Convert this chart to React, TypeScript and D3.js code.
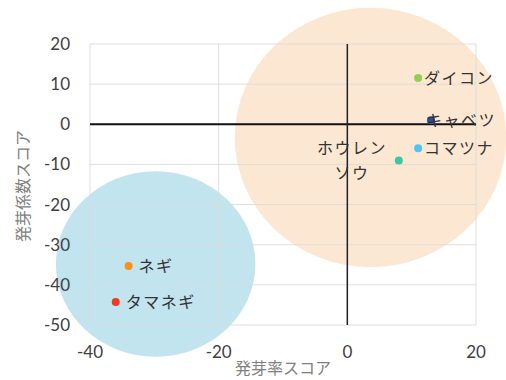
import React from "react";
import * as d3 from "d3";

const names = ["ダイコン", "キャベツ", "コマツナ", "ホウレンソウ", "ネギ", "タマネギ"];
const xValues = [11, 13, 11, 8, -34, -36];
const yValues = [11.5, 1, -6, -9, -35.3, -44.3];
const colors = ["#92d050", "#2f4fa0", "#4fc3f2", "#3cc79c", "#f7901e", "#ef3b1f"];
const xTicks = [-40, -20, 0, 20];
const yTicks = [20, 10, 0, -10, -20, -30, -40, -50];
// cluster ellipses: [cx, cy, rx, ry] in data units
const clusterCenters = [[3.6, -3.3], [-29.8, -34.8]];
const clusterRadii = [[21.1, 32.3], [15.5, 23.1]];
const clusterColors = ["#fce8d2", "#c1e4ee"];

const W = 506, H = 380;
const x = d3.scaleLinear().domain([-40, 20]).range([90, 476]);
const y = d3.scaleLinear().domain([-50, 20]).range([325, 44]);

export default function App() {
  const tickFont = "Lato, 'Open Sans', sans-serif";
  const jp = "'Noto Sans CJK JP', sans-serif";
  return (
    <svg width={W} height={H} style={{ position: "absolute", left: 0, top: 0, background: "#fff" }}>
      {clusterCenters.map((c, i) => (
        <ellipse
          key={"e" + i}
          cx={x(c[0])}
          cy={y(c[1])}
          rx={x(clusterRadii[i][0]) - x(0)}
          ry={y(0) - y(clusterRadii[i][1])}
          fill={clusterColors[i]}
        />
      ))}
      {yTicks.map((t) => (
        <line key={"gy" + t} x1={x(-40)} x2={x(20)} y1={y(t)} y2={y(t)} stroke="#d9d9d9" strokeOpacity={0.85} strokeWidth={1} />
      ))}
      {xTicks.map((t) => (
        <line key={"gx" + t} x1={x(t)} x2={x(t)} y1={y(20)} y2={y(-50)} stroke="#d9d9d9" strokeOpacity={0.85} strokeWidth={1} />
      ))}
      <line x1={x(-40)} x2={x(20)} y1={y(0)} y2={y(0)} stroke="#111" strokeWidth={2} />
      <line x1={x(0)} x2={x(0)} y1={y(20)} y2={y(-50)} stroke="#222" strokeWidth={1.5} />
      {yTicks.map((t) => (
        <text key={"ty" + t} x={70} y={y(t)} dy="0.35em" textAnchor="end" fontFamily={tickFont} fontSize={17} fill="#404040">
          {t}
        </text>
      ))}
      {xTicks.map((t) => (
        <text key={"tx" + t} x={x(t)} y={352} dy="0.35em" textAnchor="middle" fontFamily={tickFont} fontSize={17} fill="#404040">
          {t}
        </text>
      ))}
      <text x={283} y={368} dy="0.35em" textAnchor="middle" fontFamily={jp} fontSize={16} fill="#7f7f7f">
        発芽率スコア
      </text>
      <text
        transform={`translate(23,186) rotate(-90)`}
        dy="0.35em"
        textAnchor="middle"
        fontFamily={jp}
        fontSize={16}
        fill="#7f7f7f"
      >
        発芽係数スコア
      </text>
      {names.map((n, i) => (
        <circle key={"p" + i} cx={x(xValues[i])} cy={y(yValues[i])} r={4} fill={colors[i]} />
      ))}
      {names.map((n, i) => {
        const px = x(xValues[i]);
        const py = y(yValues[i]);
        if (n === "ホウレンソウ") {
          return (
            <text key={"l" + i} fontFamily={jp} fontSize={16} letterSpacing={1.5} fill="#333" textAnchor="middle">
              <tspan x={352} y={py - 12} dy="0.35em">ホウレン</tspan>
              <tspan x={352} y={py + 13} dy="0.35em">ソウ</tspan>
            </text>
          );
        }
        const offset = n === "キャベツ" ? -5 : n === "ネギ" || n === "タマネギ" ? 10 : 6;
        return (
          <text key={"l" + i} x={px + offset} y={py} dy="0.35em" fontFamily={jp} fontSize={16} letterSpacing={1.5} fill="#333">
            {n}
          </text>
        );
      })}
    </svg>
  );
}
